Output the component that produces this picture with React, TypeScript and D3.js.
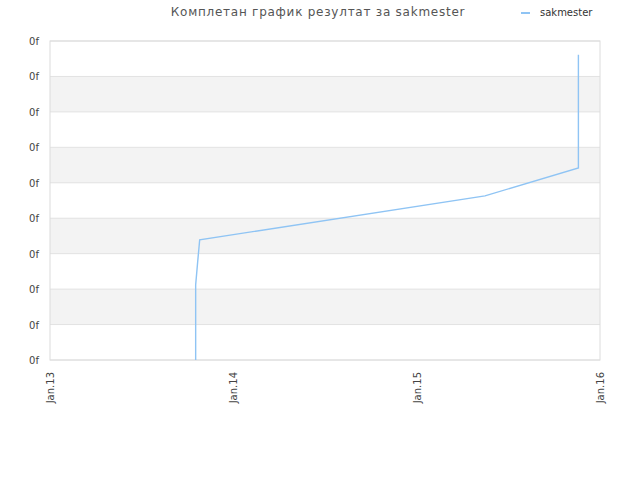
import React from 'react';
import * as d3 from 'd3';

// data
const dates = ['2013-10-18', '2013-10-18', '2013-10-22', '2013-10-26', '2015-05-17', '2015-11-19', '2015-11-19'];
const values = [0, 2.12, 2.77, 3.39, 4.63, 5.42, 8.61];
const yTicks = [0, 1, 2, 3, 4, 5, 6, 7, 8, 9];
const yTickLabels = ['0f', '0f', '0f', '0f', '0f', '0f', '0f', '0f', '0f', '0f'];
const xTicks = ['2013-01-01', '2014-01-01', '2015-01-01', '2016-01-01'];
const xTickLabels = ['Jan.13', 'Jan.14', 'Jan.15', 'Jan.16'];
const seriesName = 'sakmester';
const title = 'Комплетан график резултат за sakmester';

const width = 640;
const height = 480;
const margin = { top: 41, right: 40, bottom: 120, left: 50 };
const font = 'DejaVu Sans, sans-serif';
const lineColor = '#8fc4f4';

const App = () => {
    const parse = d3.utcParse('%Y-%m-%d');

    const x = d3.scaleUtc()
        .domain([parse(xTicks[0])!, parse(xTicks[xTicks.length - 1])!])
        .range([margin.left, width - margin.right]);

    const y = d3.scaleLinear()
        .domain([0, 9])
        .range([height - margin.bottom, margin.top]);

    const points: [Date, number][] = dates.map((d, i) => [parse(d)!, values[i]]);

    const line = d3.line<[Date, number]>()
        .x(d => x(d[0]))
        .y(d => y(d[1]));

    // alternating bands between ticks
    const bands = yTicks.slice(0, -1).map((t, i) => ({ t0: t, t1: yTicks[i + 1], grey: i % 2 === 1 }));

    return (
        <svg width={width} height={height} style={{ position: 'absolute', left: 0, top: 0 }}>
            <rect width={width} height={height} fill="#fff" />
            <text x={318} y={16} textAnchor="middle" fontFamily={font} fontSize={12} fill="#555" letterSpacing={0.75}>
                {title}
            </text>

            {/* legend */}
            <line x1={521} x2={530} y1={13} y2={13} stroke={lineColor} strokeWidth={2} />
            <text x={540} y={16} fontFamily={font} fontSize={10} fill="#333">{seriesName}</text>

            {bands.filter(b => b.grey).map((b, i) => (
                <rect key={i} x={margin.left} width={width - margin.right - margin.left}
                    y={y(b.t1)} height={y(b.t0) - y(b.t1)} fill="#f3f3f3" />
            ))}
            {yTicks.map((t, i) => (
                <g key={i}>
                    <line x1={margin.left} x2={width - margin.right} y1={y(t)} y2={y(t)} stroke="#e2e2e2" />
                    <text x={39} y={y(t) + 4} textAnchor="end" fontFamily={font} fontSize={10} fill="#444">
                        {yTickLabels[i]}
                    </text>
                </g>
            ))}

            {/* plot frame */}
            <rect x={margin.left} y={margin.top} width={width - margin.right - margin.left}
                height={height - margin.bottom - margin.top} fill="none" stroke="#dcdcdc" />

            {xTicks.map((t, i) => {
                const px = x(parse(t)!);
                return (
                    <text key={i} transform={`translate(${px + 4},${height - margin.bottom + 12}) rotate(-90)`}
                        textAnchor="end" fontFamily={font} fontSize={10} fill="#444">
                        {xTickLabels[i]}
                    </text>
                );
            })}

            <path d={line(points) ?? ''} fill="none" stroke={lineColor} strokeWidth={1.4} />
        </svg>
    );
};

export default App;
